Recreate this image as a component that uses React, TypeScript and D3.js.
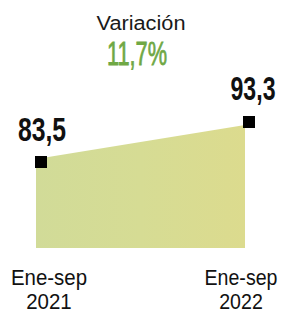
import React from "react";
import * as d3 from "d3";

const categories = ["Ene-sep|2021", "Ene-sep|2022"];
const values = [83.5, 93.3];
const valueLabels = ["83,5", "93,3"];
const title = "Variación";
const variation = "11,7%";

export default function App() {
  const W = 281, H = 314;
  const xArea = d3.scalePoint<string>().domain(categories).range([36, 245]);
  const xMark = d3.scalePoint<string>().domain(categories).range([41, 249]);
  const yArea = d3.scaleLinear().domain([83.5, 93.3]).range([159, 125]);
  const yMark = d3.scaleLinear().domain([83.5, 93.3]).range([162, 122]);
  const base = 248;
  const data = categories.map((c, i) => ({ c, v: values[i] }));
  const area = d3
    .area<{ c: string; v: number }>()
    .x((d) => xArea(d.c)!)
    .y0(base)
    .y1((d) => yArea(d.v));

  const labelPos = [
    { x: 42, y: 141, sx: 0.75 },
    { x: 253, y: 100, sx: 0.7 },
  ];
  const catPos = [
    { x: 49, sx: 0.93 },
    { x: 241, sx: 0.89 },
  ];

  return (
    <svg
      width={W}
      height={H}
      style={{ position: "absolute", left: 0, top: 0, background: "#fff" }}
    >
      <defs>
        <linearGradient id="fillg" x1="0" x2="1" y1="0" y2="0">
          <stop offset="0" stopColor="#d1db98" />
          <stop offset="0.5" stopColor="#d6dc94" />
          <stop offset="1" stopColor="#dcdb8e" />
        </linearGradient>
      </defs>
      <text
        x={141}
        y={30}
        textAnchor="middle"
        fontFamily="Liberation Sans, Arial, sans-serif"
        fontSize={20}
        fill="#1a1a1a"
        textLength={89}
        lengthAdjust="spacingAndGlyphs"
      >
        {title}
      </text>
      <g transform="translate(137,65) scale(0.64,1)">
        <text
          x={0}
          y={0}
          textAnchor="middle"
          fontFamily="Liberation Sans, sans-serif"
          fontSize={34}
          fill="#6fa844"
          stroke="#6fa844"
          strokeWidth={0.8}
        >
          {variation}
        </text>
      </g>
      <path d={area(data) || ""} fill="url(#fillg)" />
      {data.map((d, i) => (
        <rect
          key={"m" + i}
          x={xMark(d.c)! - 6}
          y={yMark(d.v) - 6}
          width={12}
          height={12}
          fill="#000"
        />
      ))}
      {data.map((d, i) => (
        <g key={"v" + i} transform={`translate(${labelPos[i].x},${labelPos[i].y}) scale(${labelPos[i].sx},1)`}>
          <text
            x={0}
            y={0}
            textAnchor="middle"
            fontFamily="Liberation Sans, sans-serif"
            fontWeight="bold"
            fontSize={33}
            fill="#111"
          >
            {valueLabels[i]}
          </text>
        </g>
      ))}
      {categories.map((c, i) => {
        const [a, b] = c.split("|");
        return (
          <g
            key={"c" + i}
            transform={`translate(${catPos[i].x},0) scale(${catPos[i].sx},1)`}
            fontFamily="Liberation Sans, Arial, sans-serif"
            fontSize={22}
            fill="#111"
          >
            <text x={0} y={285} textAnchor="middle">
              {a}
            </text>
            <text x={0} y={309} textAnchor="middle">
              {b}
            </text>
          </g>
        );
      })}
    </svg>
  );
}
